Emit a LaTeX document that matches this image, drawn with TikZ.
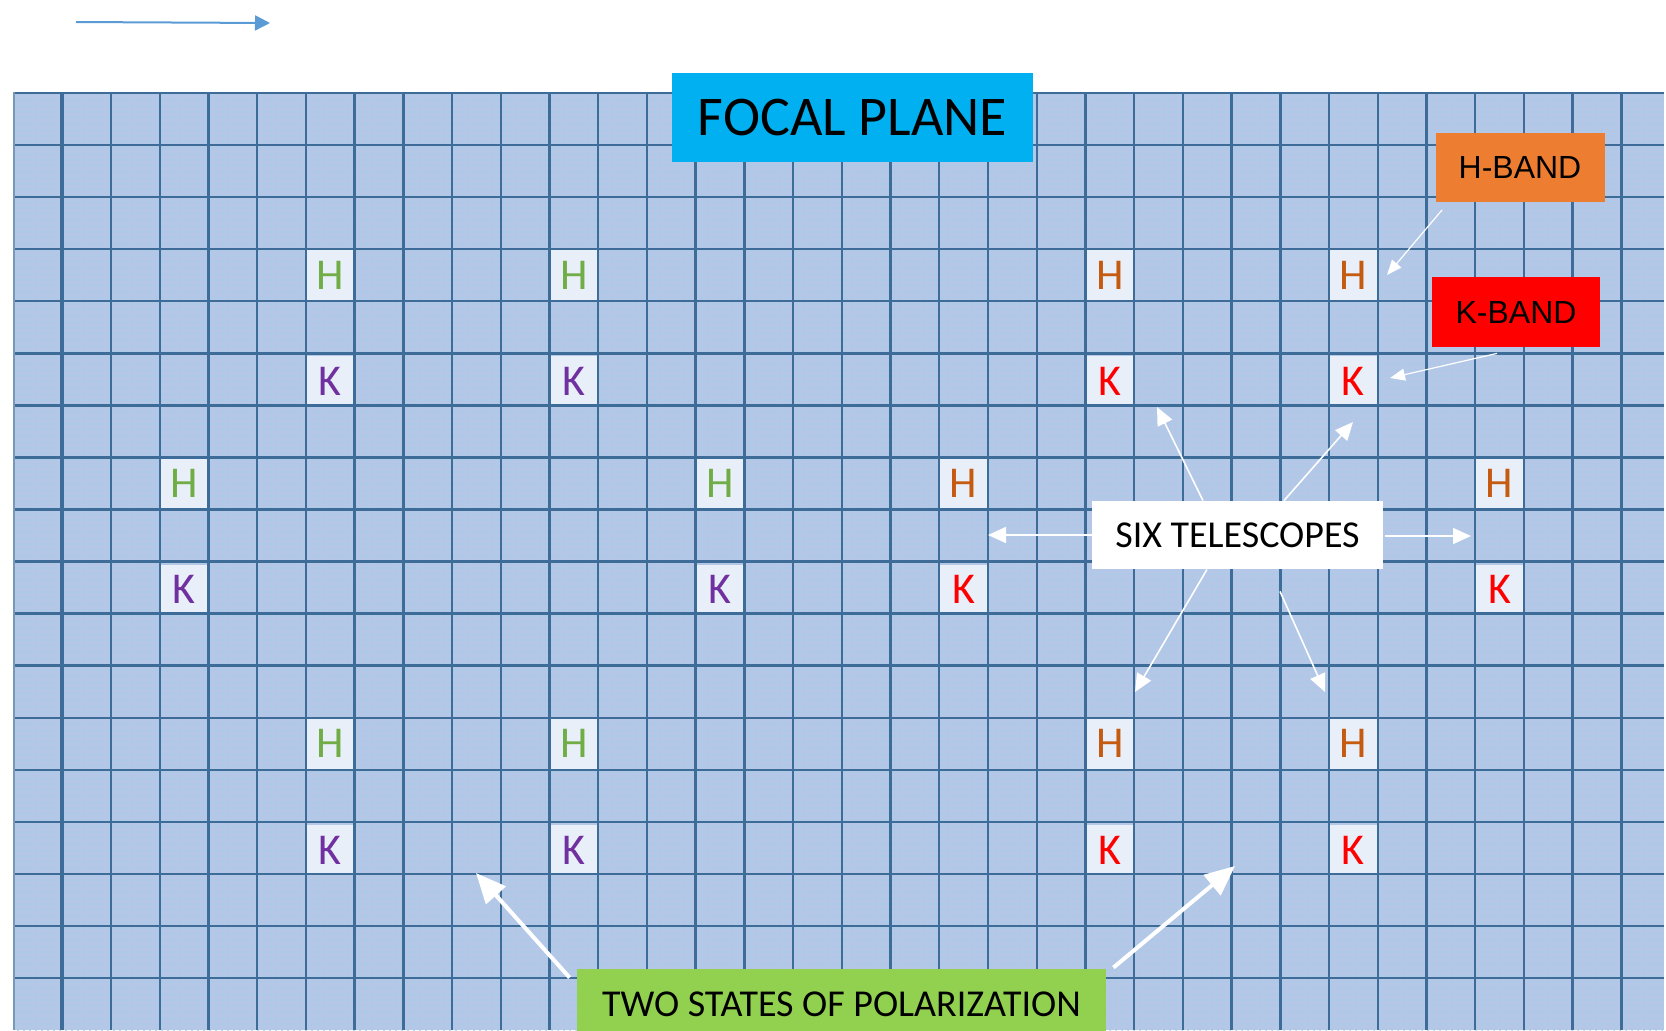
\documentclass[tikz,border=0pt]{standalone}
\usepackage{fontspec}
\setmainfont{Carlito}
\newfontfamily\bandfont{Liberation Sans}
\usepackage{tikz}
\usetikzlibrary{arrows.meta,positioning,calc,patterns}
\usepackage{xcolor}
\definecolor{gridfill}{RGB}{180,199,231}
\definecolor{gridblue}{RGB}{62,108,152}
\definecolor{dotcyan}{RGB}{158,206,232}
\definecolor{cellfill}{RGB}{233,239,248}
\definecolor{focalblue}{RGB}{0,176,240}
\definecolor{horangebox}{RGB}{237,125,49}
\definecolor{polgreen}{RGB}{146,208,80}
\definecolor{dirblue}{RGB}{91,155,213}
\definecolor{hgreen}{RGB}{112,173,71}
\definecolor{kpurple}{RGB}{112,48,160}
\definecolor{horange}{RGB}{197,90,17}

\begin{document}
\begin{tikzpicture}[x=0.5pt,y=-0.5pt,
    gridline/.style={draw=gridblue, line width=1.2pt},
    cellbox/.style={fill=cellfill, inner sep=0pt, minimum width=23.4pt, minimum height=25pt,
                    font=\fontsize{22}{22}\selectfont},
    tagbox/.style={inner sep=0pt, font=\fontsize{19}{19}\selectfont},
    bandbox/.style={inner sep=0pt, minimum width=84.5pt, minimum height=34.5pt,
                    font=\bandfont\fontsize{16}{16}\selectfont},
    telarrow/.style={draw=white, line width=0.8pt, -{Triangle[length=9pt,width=8pt]}},
    bandarrow/.style={draw=white, line width=0.6pt, -{Triangle[length=7.5pt,width=6pt]}},
    polarrow/.style={draw=white, line width=2pt, -{Triangle[length=15pt,width=13pt]}}]
    \clip (0,0) rectangle (1666,1030);
    % focal plane grid
    \fill[gridfill] (14,92) rectangle (1664,1030);
    \fill[pattern=dots, pattern color=dotcyan] (14,92) rectangle (1664,1030);
    \foreach \n/\k/\j in {1/6/3, 2/11/3, 3/3/7, 4/14/7, 5/6/12, 6/11/12}{
        \node[cellbox, text=hgreen] (hL\n) at ({13.6+48.72*(\k+0.5)},{93+52.06*(\j+0.5)}) {H};
        \node[cellbox, text=kpurple] (kL\n) at ({13.6+48.72*(\k+0.5)},{95+52.06*(\j+2.5)}) {K};
    }
    \foreach \n/\k/\j in {1/22/3, 2/27/3, 3/19/7, 4/30/7, 5/22/12, 6/27/12}{
        \node[cellbox, text=horange] (hR\n) at ({13.6+48.72*(\k+0.5)},{93+52.06*(\j+0.5)}) {H};
        \node[cellbox, text=red] (kR\n) at ({13.6+48.72*(\k+0.5)},{95+52.06*(\j+2.5)}) {K};
    }
    \foreach \k in {2,...,33}
        \draw[gridline] ({13.6+48.72*\k},92) -- ({13.6+48.72*\k},1030);
    \foreach \j in {0,...,17}
        \draw[gridline] (14,{93+52.06*\j}) -- (1664,{93+52.06*\j});
    \draw[gridblue!70, line width=0.6pt] (14,92) -- (14,1030);
    \draw[gridline, line width=2pt] (62.3,92) -- (62.3,1030);

    % direction arrow
    \coordinate (dirstart) at (76,22);
    \coordinate (dirend) at (270,23);
    \draw[dirblue, line width=1pt, -{Triangle[length=7.5pt,width=7.5pt]}] (dirstart) -- (dirend);

    % labels
    \node[fill=focalblue, minimum width=180.5pt, minimum height=44.5pt, inner sep=0pt,
          font=\fontsize{28}{28}\selectfont] (focal) at (852.5,117.5) {FOCAL PLANE};
    \node[bandbox, fill=horangebox] (hband) at (1520,167) {H-BAND};
    \node[bandbox, fill=red, minimum width=84pt, minimum height=35pt] (kband) at (1516,312) {K-BAND};
    \node[tagbox, fill=white, minimum width=145.5pt, minimum height=34pt] (six) at (1237.5,535) {SIX TELESCOPES};
    \node[tagbox, fill=polgreen, minimum width=264.5pt, minimum height=35pt] (pol) at (841.5,1004) {TWO STATES OF POLARIZATION};

    % arrows
    \coordinate (hbandtip) at (1387,275);
    \coordinate (kbandtip) at (1390,378);
    \draw[bandarrow] ($(hband.south west)+(7,8)$) -- (hbandtip);
    \draw[bandarrow] ($(kband.south)+(-19,6)$) -- (kbandtip);
    \coordinate (tw) at (988,535);
    \coordinate (tnw) at (1157,407);
    \coordinate (tne) at (1353,422);
    \coordinate (tsw) at (1135,692);
    \coordinate (tse) at (1325,692);
    \coordinate (te) at (1471,536);
    \draw[telarrow] (six.west) -- (tw);
    \draw[telarrow] ($(six.north)+(-34.5,0)$) -- (tnw);
    \draw[telarrow] ($(six.north)+(46.5,0)$) -- (tne);
    \draw[telarrow] ($(six.south)+(-30.5,0)$) -- (tsw);
    \draw[telarrow] ($(six.south)+(42.5,22)$) -- (tse);
    \draw[telarrow] ($(six.east)+(2,1)$) -- (te);
    \coordinate (pw) at (476,873);
    \coordinate (pe) at (1235,866);
    \draw[polarrow] ($(pol.north west)+(-7,9)$) -- (pw);
    \draw[polarrow] ($(pol.north east)+(7,-1)$) -- (pe);
\end{tikzpicture}
\end{document}
